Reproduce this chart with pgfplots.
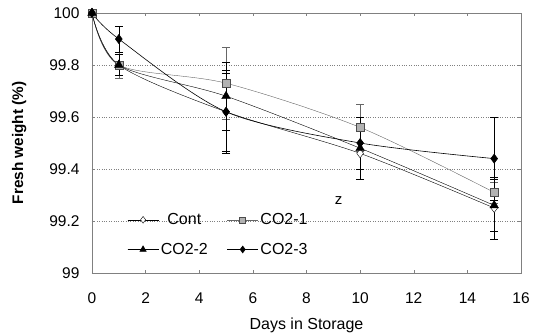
\documentclass[border=0pt]{standalone}
\usepackage{fontspec}
\setmainfont{Liberation Sans}
\usepackage{pgfplots}
\pgfplotsset{compat=1.18}
\begin{document}
\begin{tikzpicture}
\path[use as bounding box] (-92pt,-62pt) rectangle (449pt,273pt);
\begin{axis}[
  scale only axis, width=429pt, height=260pt,
  xmin=0, xmax=16, ymin=99, ymax=100,
  xtick={0,2,...,16}, ytick={99,99.2,99.4,99.6,99.8,100},
  /pgf/number format/assume math mode=true,
  yticklabel style={/pgf/number format/fixed},
  tick label style={font=\fontsize{15.5}{18}\selectfont},
  xticklabel style={yshift=-16pt},
  yticklabel style={xshift=-9pt},
  axis line style={gray},
  tick style={gray, thin},
  tick align=inside, major tick length=3pt,
  ymajorgrids, grid style={gray, dotted},
  xlabel={Days in Storage},
  ylabel={\textbf{Fresh weight (\%)}},
  xlabel style={font=\fontsize{16}{19}\selectfont, yshift=-8pt},
  ylabel style={font=\fontsize{15.3}{18}\selectfont, yshift=16pt},
  legend columns=2,
  legend style={draw=none, fill=none, at={(0.075,0.05)}, anchor=south west,
    font=\fontsize{16}{19}\selectfont, row sep=13pt, /tikz/every even column/.append style={column sep=17pt}},
  legend image code/.code={\draw[#1] (0pt,0pt) -- (31pt,0pt); \draw[#1, mark repeat=2, mark phase=2, every mark/.append style={scale=0.75}] plot coordinates {(0pt,0pt) (15.5pt,0pt) (31pt,0pt)};},
  every axis plot/.append style={smooth, tension=0.5},
]
\addplot[black, thin, mark=diamond*, mark size=4.5pt, mark options={fill=white, solid},
  error bars/.cd, y dir=both, y explicit, error mark options={rotate=90, mark size=4pt}]
  coordinates {(0,100) +- (0,0) (1,99.80) +- (0,0.04) (5,99.62) +- (0,0.16) (10,99.46) +- (0,0.10) (15,99.25) +- (0,0.12)};
\addlegendentry{Cont}
\addplot[gray!80!black, thin, mark=square*, mark size=4pt, mark options={fill=gray!60, draw=black!70, solid},
  error bars/.cd, y dir=both, y explicit, error mark options={rotate=90, mark size=4pt}]
  coordinates {(0,100) +- (0,0) (1,99.80) +- (0,0.05) (5,99.73) +- (0,0.14) (10,99.56) +- (0,0.09) (15,99.31) +- (0,0.04)};
\addlegendentry{CO2-1}
\addplot[black, thin, mark=triangle*, mark size=5pt, mark options={fill=black, solid},
  error bars/.cd, y dir=both, y explicit, error mark options={rotate=90, mark size=4pt}]
  coordinates {(0,100) +- (0,0) (1,99.80) +- (0,0.04) (5,99.68) +- (0,0.13) (10,99.48) +- (0,0.08) (15,99.26) +- (0,0.10)};
\addlegendentry{CO2-2}
\addplot[black, semithick, mark=diamond*, mark size=4.5pt, mark options={fill=black, solid},
  error bars/.cd, y dir=both, y explicit, error mark options={rotate=90, mark size=4pt}]
  coordinates {(0,100) +- (0,0) (1,99.90) +- (0,0.05) (5,99.62) +- (0,0.15) (10,99.50) +- (0,0.10) (15,99.44) +- (0,0.16)};
\addlegendentry{CO2-3}
\node[font=\fontsize{15}{18}\selectfont] at (axis cs:9.2,99.28) {z};
\end{axis}
\end{tikzpicture}
\end{document}
